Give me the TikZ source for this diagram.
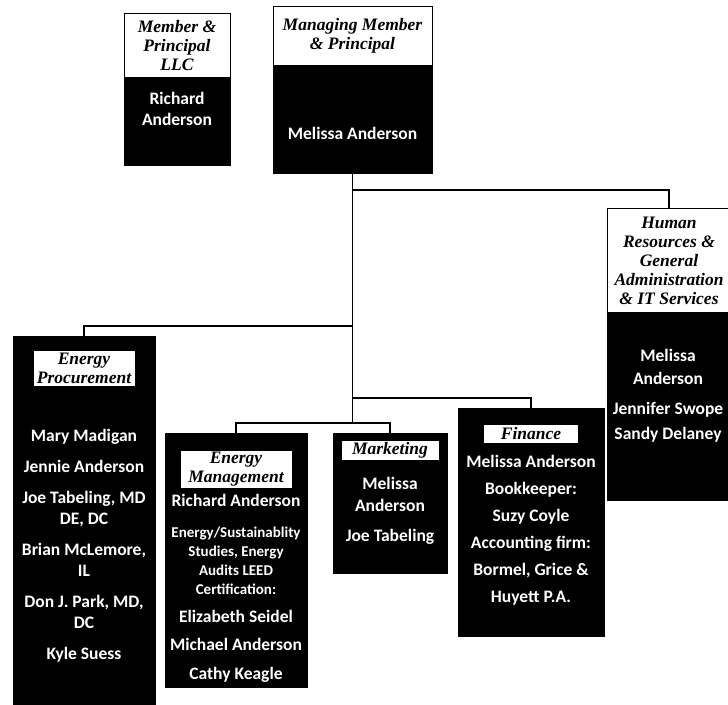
\documentclass[tikz,border=0pt]{standalone}
\usepackage{fontspec}
\setmainfont{Liberation Serif}
\newfontfamily\calibri{Carlito}
\usetikzlibrary{positioning}
\tikzset{
	unit/.style = {draw, fill = black, line width = 1pt, inner sep = 0pt, anchor = north},
	head/.style = {draw, fill = white, line width = 1pt, inner sep = 1pt, align = center, font = \fontsize{17.5}{19}\selectfont\bfseries\itshape},
	names/.style = {text = white, inner sep = 0pt, align = center, font = \calibri\fontsize{17.5}{21}\selectfont\bfseries},
	minor/.style = {names, font = \calibri\fontsize{15}{19}\selectfont\bfseries},
	link/.style = {line width = 1.8pt}
}

\begin{document}
\begin{tikzpicture}[x = 1pt, y = -1pt]
	\useasboundingbox (0,0) rectangle (728,704);

	\node [unit, minimum width = 106pt, minimum height = 152pt] (mp) at (177,13) {};
	\node [head, minimum width = 106pt, minimum height = 64pt, below = 0pt of mp.north] (mph) {Member \&\\Principal\\LLC};
	\node [names, anchor = north] (mpn) at (177,92.5) {Richard\\Anderson};

	\node [unit, minimum width = 159pt, minimum height = 167pt] (mm) at (352.5,6) {};
	\node [head, minimum width = 159pt, minimum height = 59pt, below = 0pt of mm.north] (mmh) {Managing Member\\\& Principal};
	\node [names, anchor = north] (mmn) at (352.5,127.5) {Melissa Anderson};

	\node [unit, minimum width = 124pt, minimum height = 292pt] (hr) at (669,208) {};
	\node [head, minimum width = 124pt, minimum height = 104pt, below = 0pt of hr.north] (hrh) {Human\\Resources \&\\General\\Administration\\\& IT Services};
	\node [names, anchor = north] (hrn) at (668,349.5) {Melissa\\[2pt]Anderson\\[9pt]Jennifer Swope\\[4pt]Sandy Delaney};

	\node [unit, minimum width = 142pt, minimum height = 380pt] (ep) at (84,336) {};
	\node [head, minimum width = 102pt, minimum height = 36pt, below = 14pt of ep.north] (eph) {Energy\\Procurement};
	\node [names, anchor = north] (epn) at (84,429.5) {Mary Madigan\\[10pt]Jennie Anderson\\[10pt]Joe Tabeling, MD\\DE, DC\\[10pt]Brian McLemore,\\IL\\[10pt]Don J. Park, MD,\\DC\\[10pt]Kyle Suess};

	\node [unit, minimum width = 142pt, minimum height = 254pt] (em) at (236,433) {};
	\node [head, minimum width = 112pt, minimum height = 38pt, below = 17pt of em.north] (emh) {Energy\\Management};
	\node [names, anchor = north] (emn) at (236,494.5) {Richard Anderson};
	\node [minor, below = 19pt of emn] (ems) {Energy/Sustainablity\\Studies, Energy\\Audits LEED\\Certification:};
	\node [names, below = 15.5pt of ems] (emp) {Elizabeth Seidel\\[7.5pt]Michael Anderson\\[7.5pt]Cathy Keagle};

	\node [unit, minimum width = 114pt, minimum height = 140pt] (mkt) at (390,433) {};
	\node [head, minimum width = 98pt, minimum height = 20pt, below = 7pt of mkt.north] (mkth) {Marketing};
	\node [names, anchor = north] (mktn) at (390,477.5) {Melissa\\[1pt]Anderson\\[9pt]Joe Tabeling};

	\node [unit, minimum width = 146pt, minimum height = 228pt] (fin) at (531,408) {};
	\node [head, minimum width = 95pt, minimum height = 19pt, below = 16pt of fin.north] (finh) {Finance};
	\node [names, anchor = north] (finn) at (531,455.5) {Melissa Anderson\\[6pt]Bookkeeper:\\[6pt]Suzy Coyle\\[6pt]Accounting firm:\\[6pt]Bormel, Grice \&\\[6pt]Huyett P.A.};

	\draw [link] (mm.south) |- ([yshift=18pt]hr.north) -- (hr.north);
	\draw [link] (mm.south) |- ([yshift=10pt]ep.north) -- (ep.north);
	\draw [link] (mm.south) |- ([yshift=10pt]fin.north) -- (fin.north);
	\draw [link] (em.north) -- ++(0,-10) coordinate (emup) -| (mkt.north);
	\draw [link] (mm.south) -- (mm.south |- emup);
\end{tikzpicture}
\end{document}
